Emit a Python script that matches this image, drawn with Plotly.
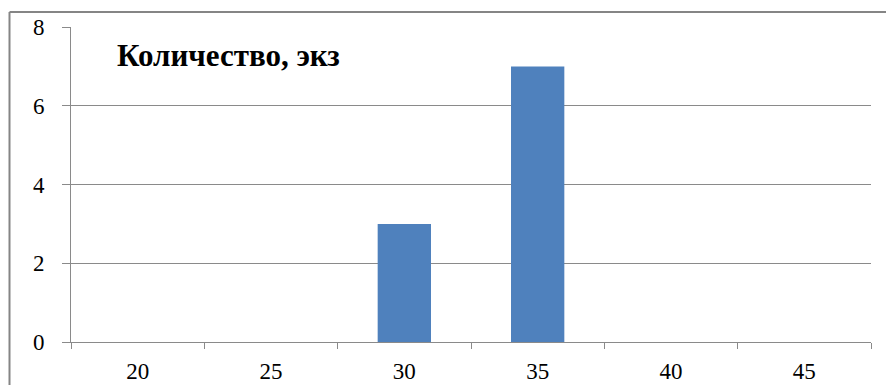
import plotly.graph_objects as go

# Category values and counts per category
categories = ["20", "25", "30", "35", "40", "45"]
counts = [0, 0, 3, 7, 0, 0]
y_ticks = [0, 2, 4, 6, 8]
title_text = "Количество, экз"

W, H = 886, 385
ML, MR, MT, MB = 71, 15, 27, 43
PW, PH = W - ML - MR, H - MT - MB

GRAY = "#8a8a8a"
FONT = "Liberation Serif"

fig = go.Figure(
    go.Bar(
        x=categories,
        y=counts,
        marker=dict(color="#4F81BD", line=dict(width=0)),
        width=0.4,
        hoverinfo="skip",
    )
)

# outer chart frame: top and left edges (the rest runs off the page)
fx0 = (9.5 - ML) / PW
fy1 = 1 + (MT - 12) / PH
frame = dict(color="#858585", width=2)
fig.add_shape(type="line", xref="paper", yref="paper",
              x0=fx0, x1=(W - ML) / PW, y0=fy1, y1=fy1, line=frame)
fig.add_shape(type="line", xref="paper", yref="paper",
              x0=fx0, x1=fx0, y0=fy1, y1=-MB / PH, line=frame)

fig.add_annotation(
    text="<b>" + title_text + "</b>",
    xref="paper", yref="paper",
    x=(115 - ML) / PW, y=1 - (55 - MT) / PH,
    xanchor="left", yanchor="middle",
    showarrow=False,
    font=dict(family=FONT, size=31, color="#000000"),
)

fig.update_layout(
    width=W, height=H,
    margin=dict(l=ML, r=MR, t=MT, b=MB),
    paper_bgcolor="white", plot_bgcolor="white",
    showlegend=False,
    font=dict(family=FONT, size=23, color="#000000"),
)
fig.update_xaxes(
    type="category",
    tickson="boundaries",
    ticks="outside", ticklen=6, tickcolor=GRAY, tickwidth=1,
    showline=True, linecolor=GRAY, linewidth=1,
    showgrid=False,
    ticklabelstandoff=8,
    automargin=False,
)
fig.update_yaxes(
    range=[0, 8],
    tickvals=y_ticks,
    ticks="outside", ticklen=8, tickcolor=GRAY, tickwidth=1,
    showline=True, linecolor=GRAY, linewidth=1,
    showgrid=True, gridcolor=GRAY, gridwidth=1,
    zeroline=False,
    ticklabelstandoff=13,
    automargin=False,
)

fig.write_html("out.html")
